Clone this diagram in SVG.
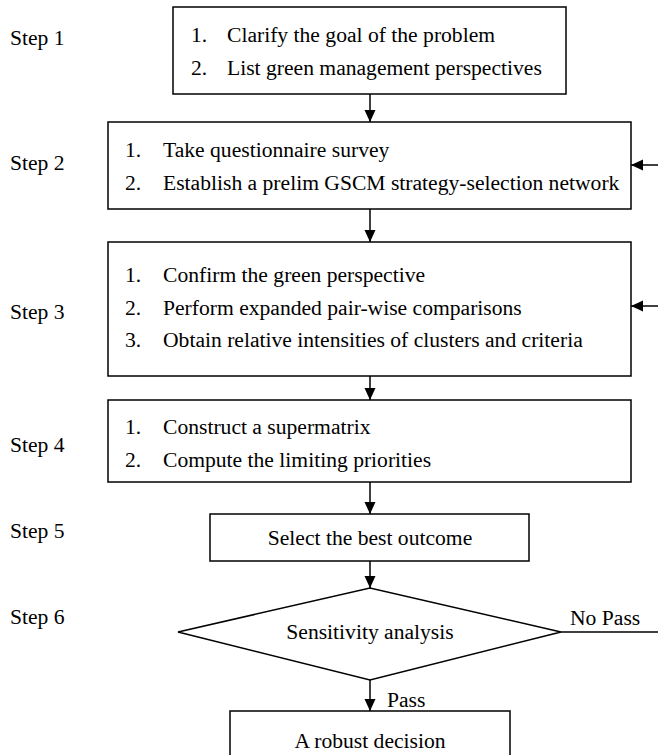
<svg xmlns="http://www.w3.org/2000/svg" width="658" height="755" viewBox="0 0 658 755">
<style>
text{font-family:"Liberation Serif","Times New Roman",serif;font-size:21.6px;fill:#000}
.box{fill:#fff;stroke:#000;stroke-width:1.5}
.ln{stroke:#000;stroke-width:1.5;fill:none}
.mid{text-anchor:middle}
</style>
<defs>
<marker id="ah" viewBox="0 0 12 12" refX="12" refY="6" markerWidth="12" markerHeight="12" markerUnits="userSpaceOnUse" orient="auto">
<path d="M0,0.5 L12,6 L0,11.5 z" fill="#000"/>
</marker>
</defs>
<rect width="658" height="755" fill="#fff"/>
<g id="labels">
<text x="10" y="45">Step 1</text>
<text x="10" y="170">Step 2</text>
<text x="10" y="319">Step 3</text>
<text x="10" y="452">Step 4</text>
<text x="10" y="538">Step 5</text>
<text x="10" y="624">Step 6</text>
</g>
<g id="connectors">
<line class="ln" x1="370" y1="94" x2="370" y2="122" marker-end="url(#ah)"/>
<line class="ln" x1="370" y1="209" x2="370" y2="242" marker-end="url(#ah)"/>
<line class="ln" x1="370" y1="376" x2="370" y2="400" marker-end="url(#ah)"/>
<line class="ln" x1="370" y1="482" x2="370" y2="514" marker-end="url(#ah)"/>
<line class="ln" x1="370" y1="561" x2="370" y2="588" marker-end="url(#ah)"/>
<line class="ln" x1="370" y1="680" x2="370" y2="711" marker-end="url(#ah)"/>
<line class="ln" x1="561" y1="632" x2="658" y2="632"/>
<line class="ln" x1="658" y1="165" x2="631" y2="165" marker-end="url(#ah)"/>
<line class="ln" x1="658" y1="306" x2="631" y2="306" marker-end="url(#ah)"/>
<text x="570" y="625">No Pass</text>
<text x="387" y="707">Pass</text>
</g>
<g id="step1">
<rect class="box" x="173" y="7" width="393" height="87"/>
<text x="191" y="42">1.</text><text x="227" y="42">Clarify the goal of the problem</text>
<text x="191" y="75">2.</text><text x="227" y="75">List green management perspectives</text>
</g>
<g id="step2">
<rect class="box" x="108" y="122" width="523" height="87"/>
<text x="125" y="157">1.</text><text x="163" y="157">Take questionnaire survey</text>
<text x="125" y="190">2.</text><text x="163" y="190">Establish a prelim GSCM strategy-selection network</text>
</g>
<g id="step3">
<rect class="box" x="108" y="242" width="523" height="134"/>
<text x="125" y="282">1.</text><text x="163" y="282">Confirm the green perspective</text>
<text x="125" y="315">2.</text><text x="163" y="315">Perform expanded pair-wise comparisons</text>
<text x="125" y="347">3.</text><text x="163" y="347">Obtain relative intensities of clusters and criteria</text>
</g>
<g id="step4">
<rect class="box" x="108" y="400" width="523" height="82"/>
<text x="125" y="434">1.</text><text x="163" y="434">Construct a supermatrix</text>
<text x="125" y="467">2.</text><text x="163" y="467">Compute the limiting priorities</text>
</g>
<g id="step5">
<rect class="box" x="210" y="514" width="319" height="47"/>
<text class="mid" x="370" y="545">Select the best outcome</text>
</g>
<g id="step6">
<polygon class="box" points="178,632 370,588 561,632 370,680"/>
<text class="mid" x="370" y="639">Sensitivity analysis</text>
</g>
<g id="result">
<rect class="box" x="230" y="711" width="280" height="50"/>
<text class="mid" x="370" y="748">A robust decision</text>
</g>
</svg>
